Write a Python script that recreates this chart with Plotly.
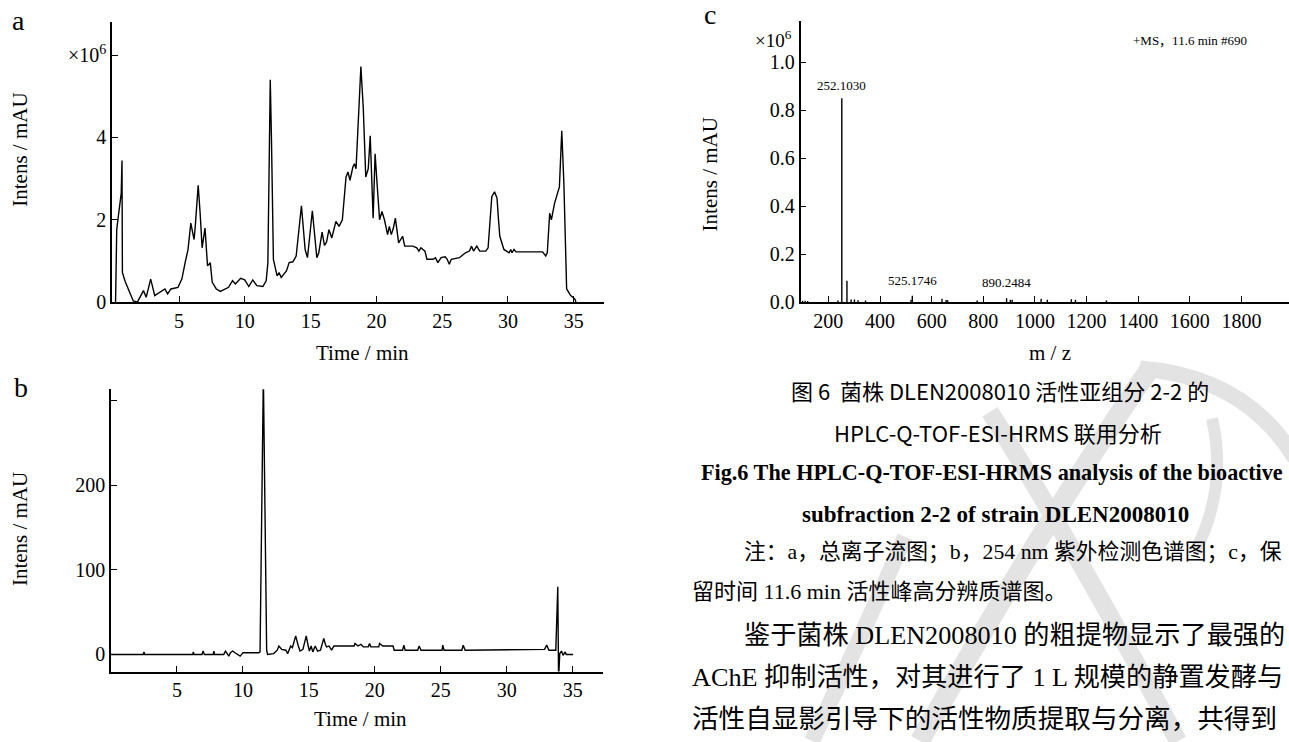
import plotly.graph_objects as go

# ---------------- data ----------------
# (a) total ion chromatogram, intensity in 1e6
tic_time = [0.17, 0.26, 0.38, 0.6, 0.66, 0.69, 0.9, 1.21, 1.52, 1.83, 2.29, 2.5, 2.84, 3.15, 3.92,
            4.13, 4.38, 4.91, 5.21, 5.46, 5.68, 5.89, 6.14, 6.23, 6.45, 6.6, 6.75, 6.97, 7.16, 7.37,
            7.52, 7.83, 8.14, 8.76, 9.06, 9.28, 9.68, 9.99, 10.3, 10.6, 10.91, 11.37, 11.62, 11.75,
            11.84, 11.93, 12.02, 12.11, 12.17, 12.45, 12.6, 12.76, 13.16, 13.37, 13.65, 13.9, 14.3,
            14.58, 14.76, 15.13, 15.31, 15.47, 15.62, 15.87, 16.05, 16.21, 16.39, 16.61, 16.92, 17.16,
            17.41, 17.69, 17.84, 17.99, 18.21, 18.33, 18.45, 18.61, 18.82, 19.0, 19.19, 19.38, 19.53,
            19.75, 19.9, 20.05, 20.24, 20.42, 20.61, 20.85, 20.98, 21.13, 21.29, 21.44, 21.69, 21.99,
            22.15, 22.76, 23.07, 23.23, 23.38, 23.69, 23.84, 24.3, 24.49, 24.67, 24.92, 25.23, 25.38,
            25.54, 25.69, 26.31, 26.77, 27.07, 27.23, 27.38, 27.63, 27.85, 28.31, 28.49, 28.6, 28.77,
            28.98, 29.17, 29.28, 29.38, 29.69, 30.09, 30.21, 30.31, 30.46, 30.61, 32.63, 32.87, 32.99,
            33.17, 33.3, 33.54, 33.91, 34.09, 34.25, 34.46, 34.77, 35.08, 35.17]
tic_int = [0.0, 1.76, 2.08, 2.64, 3.44, 0.72, 0.5, 0.25, 0.03, 0.0, 0.28, 0.12, 0.56, 0.16, 0.32,
           0.2, 0.32, 0.36, 0.56, 0.96, 1.28, 1.92, 1.52, 1.84, 2.84, 2.16, 1.32, 1.8, 0.88, 0.96,
           0.48, 0.32, 0.26, 0.36, 0.52, 0.44, 0.58, 0.54, 0.38, 0.54, 0.4, 0.38, 0.52, 0.96,
           3.36, 5.4, 4.0, 1.76, 1.04, 0.64, 0.72, 0.6, 0.76, 0.96, 0.98, 1.12, 2.34,
           1.28, 1.08, 2.22, 1.6, 1.08, 1.2, 1.7, 1.38, 1.46, 1.76, 1.56, 1.96, 1.84,
           2.0, 3.04, 3.16, 2.96, 3.28, 3.36, 3.24, 4.32, 5.72, 4.72, 3.04, 3.24, 4.04,
           2.04, 3.6, 2.88, 2.0, 2.2, 2.0, 1.64, 1.84, 1.64, 1.8, 2.04, 1.44, 1.6,
           1.36, 1.36, 1.32, 1.24, 1.32, 1.24, 1.04, 1.04, 1.08, 0.96, 1.08, 1.1, 1.04,
           0.92, 1.04, 1.08, 1.2, 1.24, 1.36, 1.24, 1.36, 1.24, 1.24, 1.32, 1.9, 2.56,
           2.68, 2.52, 2.0, 1.6, 1.28, 1.2, 1.28, 1.2, 1.28, 1.22, 1.22, 1.12, 1.2,
           2.16, 2.0, 2.4, 2.8, 4.16, 2.88, 0.32, 0.16, 0.08, 0.0]

# (b) 254 nm UV chromatogram, mAU
uv_time = [0.0, 2.45, 2.5, 2.55, 6.2, 6.24, 6.3, 6.9, 6.98, 7.08, 7.75, 7.8, 7.85, 8.55, 8.68, 8.85,
           8.93, 9.05, 9.23, 9.4, 9.6, 9.79, 9.95, 10.0, 11.2, 11.3, 11.45, 11.55, 11.65, 11.8,
           11.87, 12.33, 12.6, 12.73, 12.94, 13.25, 13.4, 13.55, 13.62, 13.75, 14.0, 14.2, 14.33,
           14.55, 14.8, 14.95, 15.04, 15.17, 15.3, 15.48, 15.66, 15.88, 16.13, 16.25, 16.34, 16.53,
           16.72, 16.9, 18.43, 18.5, 18.6, 18.72, 18.94, 19.13, 19.5, 19.6, 19.7, 20.3, 20.36,
           20.6, 21.38, 21.47, 22.1, 22.2, 22.3, 23.25, 23.36, 23.5, 25.1, 25.15, 25.25, 26.6,
           26.7, 26.85, 32.87, 33.03, 33.2, 33.72, 33.87, 33.93, 34.02, 34.15, 34.27, 34.43,
           34.51, 35.03]
uv_int = [0, 0, 3, 0, 0, 3, 0, 0, 4, 0, 0, 4, 0, 0, 4, 0,
          -2, 2, 4, 2, 0, -2, 1, 2, 2, 3, 200, 330, 200, 5,
          0, 1, 5, 10, 6, 5, 1, 6, 10, 8, 22, 10, 4,
          6, 22, 10, 4, 10, 3, 10, 4, 5, 19, 12, 9, 10,
          5, 10, 10, 13, 11, 10, 12, 9, 9, 13, 9, 9, 13,
          10, 10, 5, 5, 11, 5, 5, 10, 5, 5, 11, 5, 5,
          11, 5, 6, 11, 5, 5, 80, -30, 1, 4, -1, 3,
          0, 0]

# (c) high-resolution mass spectrum at 11.6 min, intensity in 1e6
ms_mz = [100, 110, 120, 237, 252.103, 272, 288, 301, 315, 344, 520, 525.1746, 640, 656, 662,
         776, 890.2484, 905, 912, 1024, 1048, 1141, 1157, 1277]
ms_int = [0.006, 0.006, 0.005, 0.007, 0.85, 0.089, 0.011, 0.011, 0.008, 0.007, 0.01, 0.027, 0.014,
          0.009, 0.008, 0.007, 0.016, 0.01, 0.01, 0.014, 0.01, 0.012, 0.01, 0.007]
ms_labels = ["252.1030", "525.1746", "890.2484"]
ms_label_mz = [252.103, 525.1746, 890.2484]

time_ticks = [5, 10, 15, 20, 25, 30, 35]
a_yticks = [0, 2, 4, 6]
a_yticktext = ["0", "2", "4", "×10<sup>6</sup>"]
b_yticks = [0, 100, 200, 300]
b_yticktext = ["0", "100", "200", " "]
c_xticks = [200, 400, 600, 800, 1000, 1200, 1400, 1600, 1800]
c_yticks = [0.0, 0.2, 0.4, 0.6, 0.8, 1.0]

# ---------------- layout helpers ----------------
W, H = 1289, 742


def px(x):
    return x / W


def py(y):
    return 1 - y / H


SERIF = "Liberation Serif, Times New Roman, serif"
CJK = "Noto Sans CJK SC"
MIX = "Liberation Serif, Noto Sans CJK SC"

fig = go.Figure()
line = dict(color="black", width=1.4)
fig.add_trace(go.Scatter(x=tic_time, y=tic_int, mode="lines", line=line,
                         xaxis="x", yaxis="y", showlegend=False, hoverinfo="skip"))
fig.add_trace(go.Scatter(x=uv_time, y=uv_int, mode="lines", line=line,
                         xaxis="x2", yaxis="y2", showlegend=False, hoverinfo="skip"))
sx, sy = [], []
for m, v in zip(ms_mz, ms_int):
    sx += [m, m, None]
    sy += [0, v, None]
fig.add_trace(go.Scatter(x=sx, y=sy, mode="lines", line=line,
                         xaxis="x3", yaxis="y3", showlegend=False, hoverinfo="skip"))

ax = dict(showline=True, linecolor="black", linewidth=1.5, ticks="inside", ticklen=6,
          tickwidth=1.3, tickcolor="black", showgrid=False, zeroline=False,
          tickfont=dict(family=SERIF, size=20, color="black"), fixedrange=True)

fig.update_layout(
    width=W, height=H, margin=dict(l=0, r=0, t=0, b=0),
    paper_bgcolor="white", plot_bgcolor="rgba(0,0,0,0)", showlegend=False,
    xaxis=dict(ax, domain=[px(112), px(604)], range=[-0.1, 37.3], tickvals=time_ticks, anchor="y"),
    yaxis=dict(ax, domain=[py(306.7), py(22)], range=[0, 6.81], tickvals=a_yticks,
               ticktext=a_yticktext, anchor="x"),
    xaxis2=dict(ax, domain=[px(111), px(602.5)], range=[0, 37.26], tickvals=time_ticks, anchor="y2"),
    yaxis2=dict(ax, domain=[py(681.7), py(395)], range=[-20.3, 313.9], tickvals=b_yticks,
                ticktext=b_yticktext, anchor="x2"),
    xaxis3=dict(ax, domain=[px(800.6), 1.0], range=[92.5, 1984], tickvals=c_xticks, anchor="y3"),
    yaxis3=dict(ax, domain=[py(306.7), py(21.7)], range=[0, 1.171], tickvals=c_yticks,
                tickformat=".1f", anchor="x3"),
)

# ---------------- watermark (light grey strokes) ----------------
def qpath(p0, c, p1):
    return "M {} {} Q {} {} {} {}".format(px(p0[0]), py(p0[1]), px(c[0]), py(c[1]), px(p1[0]), py(p1[1]))


wm = [((1150, 374), (1050, 520), (920, 752), 20),
      ((990, 418), (1080, 565), (1178, 752), 18),
      ((905, 545), (860, 650), (812, 752), 16),
      ((1140, 374), (1245, 382), (1295, 465), 16),
      ((1212, 425), (1228, 495), (1195, 560), 12)]
for p0, c, p1, w in wm:
    fig.add_shape(type="path", path=qpath(p0, c, p1), xref="paper", yref="paper",
                  line=dict(color="#e3e3e3", width=w), layer="below")

# ---------------- annotations ----------------
ann = []


def text(x, y, s, size, family=SERIF, xanchor="center", yanchor="middle", angle=0):
    ann.append(dict(x=px(x), y=py(y), xref="paper", yref="paper", text=s, showarrow=False,
                    xanchor=xanchor, yanchor=yanchor, textangle=angle,
                    font=dict(family=family, size=size, color="black")))


# panel letters
text(18, 21, "a", 28)
text(21, 393, "b", 28)
text(710, 15, "c", 28)
# axis titles
text(20, 152, "Intens / mAU", 21, angle=-90)
text(20, 537, "Intens / mAU", 21, angle=-90)
text(710, 177, "Intens / mAU", 21, angle=-90)
text(362, 358, "Time / min", 21)
text(360, 730, "Time / min", 21)
text(1050, 358, "m / z", 21)
text(794, 40, "×10<sup>6</sup>", 19, xanchor="right")
text(1190, 41, "+MS，11.6 min #690", 13, family=MIX)

for lab, m in zip(ms_labels, ms_label_mz):
    v = ms_int[ms_mz.index(m)]
    ann.append(dict(x=m, y=v, xref="x3", yref="y3", text=lab, showarrow=False,
                    xanchor="center", yanchor="bottom", yshift=3 if v > 0.5 else 6,
                    font=dict(family=SERIF, size=13, color="black")))

# caption
text(1000, 396, "图 6  菌株 DLEN2008010 活性亚组分 2-2 的", 22, family=CJK)
text(998, 438, "HPLC-Q-TOF-ESI-HRMS 联用分析", 22, family=CJK)
text(699, 480, "<b>Fig.6 The HPLC-Q-TOF-ESI-HRMS analysis of the bioactive</b>", 22.2, xanchor="left")
text(995, 522, "<b>subfraction 2-2 of strain DLEN2008010</b>", 23)
text(742, 560, "注：a，总离子流图；b，254 nm 紫外检测色谱图；c，保", 21.8, family=MIX, xanchor="left")
text(690, 600, "留时间 11.6 min 活性峰高分辨质谱图。", 22, family=MIX, xanchor="left")
# body text
text(742, 645, "鉴于菌株 DLEN2008010 的粗提物显示了最强的", 26.2, family=MIX, xanchor="left")
text(690, 688, "AChE 抑制活性，对其进行了 1 L 规模的静置发酵与", 26.2, family=MIX, xanchor="left")
text(690, 730, "活性自显影引导下的活性物质提取与分离，共得到", 26.6, family=MIX, xanchor="left")

fig.update_layout(annotations=ann)
fig.write_html("out.html")
